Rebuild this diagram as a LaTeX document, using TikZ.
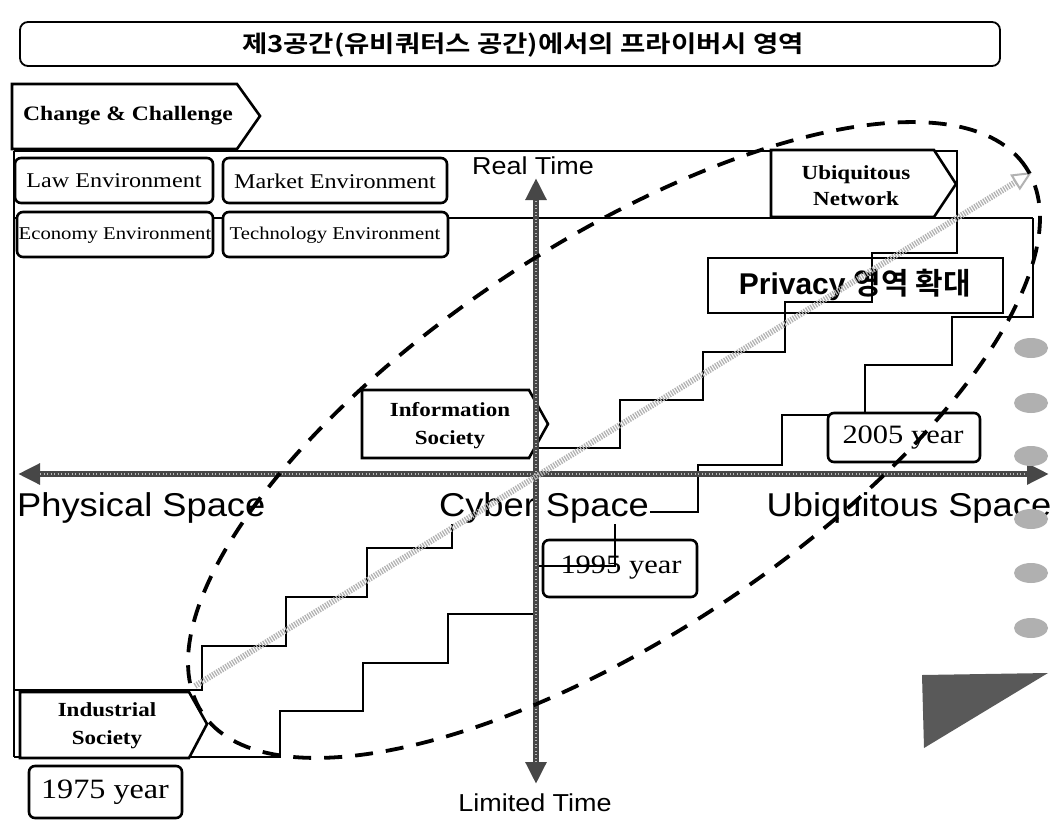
\documentclass[tikz,border=0pt]{standalone}
\usepackage{fontspec}
\setmainfont{Liberation Serif}
\setsansfont{Liberation Sans}
\newfontfamily\wserif[FakeStretch=1.15]{Liberation Serif}
\newfontfamily\wsans[FakeStretch=1.1]{Liberation Sans}
\newfontfamily\kr[BoldFont={* Bold}]{Noto Sans CJK KR}
\newfontfamily\krt[BoldFont={* Bold}, FakeStretch=1.17]{Noto Sans CJK KR}
\usetikzlibrary{arrows.meta}
\tikzset{
  thinline/.style={line width=1.6pt},
  pent/.style={line width=2.6pt, fill=white, line join=miter},
  rbox/.style={line width=2.6pt, fill=white, rounded corners=6pt},
  serifb/.style={font=\wserif\fontsize{20}{28}\selectfont\bfseries, align=center, inner sep=0pt},
  envtxt/.style={font=\wserif\fontsize{21}{23}\selectfont, inner sep=0pt},
  envtxts/.style={font=\wserif\fontsize{18}{20}\selectfont, inner sep=0pt},
  yeartxt/.style={font=\wserif\fontsize{26.5}{28}\selectfont, inner sep=0pt},
  axlbl/.style={font=\wsans\fontsize{33}{35}\selectfont, inner sep=1pt, fill=white},
  tlbl/.style={font=\wsans\fontsize{24.5}{26}\selectfont, inner sep=0pt},
  axis/.style={line width=6pt, draw=black!72, {Triangle[length=22pt,width=20pt]}-{Triangle[length=22pt,width=20pt]}},
  axistex/.style={line width=2pt, draw=gray!55, dash pattern=on 1pt off 2.5pt},
  diag/.style={line width=6pt, draw=gray!60, dash pattern=on 1.3pt off 1.3pt, -{Triangle[open,length=20pt,width=18pt,line width=2pt]}},
  ell/.style={line width=3.8pt, dash pattern=on 18pt off 13pt},
  dot/.style={fill=gray!62, draw=none}
}
\begin{document}
\begin{tikzpicture}[x=1pt,y=-1pt]
\useasboundingbox (0,0) rectangle (1055,822);
\fill[white] (0,0) rectangle (1055,822);

% title
\draw[line width=1.8pt, rounded corners=8pt] (20,22) rectangle (1000,66);
\node[font=\krt\bfseries\fontsize{23.5}{25}\selectfont, inner sep=0pt] (title) at (523,45) {제3공간(유비쿼터스 공간)에서의 프라이버시 영역};

% band and staircase lines
\draw[thinline] (14,151) -- (957,151) -- (957,218);
\draw[thinline] (14,151) -- (14,757);
\draw[thinline] (14,218) -- (1033,218);
% upper staircase
\draw[thinline] (14,690) -- (202,690) -- (202,646) -- (286,646) -- (286,597) -- (367,597) -- (367,548) -- (452,548) -- (452,500) -- (537,500) -- (537,448) -- (620,448) -- (620,400) -- (703,400) -- (703,352) -- (785,352) -- (785,302) -- (872,302) -- (872,253) -- (957,253) -- (957,218);
% lower staircase
\draw[thinline] (14,757) -- (280,757) -- (280,711) -- (363,711) -- (363,663) -- (448,663) -- (448,614) -- (535,614) -- (535,566) -- (615,566) -- (615,512) -- (698,512) -- (698,465) -- (782,465) -- (782,415) -- (865,415) -- (865,365) -- (952,365) -- (952,317) -- (1033,317) -- (1033,218);

% Privacy box
\draw[thinline] (708,258) rectangle (1003,313);
\node[inner sep=0pt] (priv) at (855,285) {\fontsize{30}{32}\selectfont\sffamily\bfseries Privacy {\kr\bfseries 영역 확대}};

% 1995 box (no fill)
\draw[line width=2.6pt, rounded corners=6pt] (543,540) rectangle (697,597);
\node[yeartxt] (y1995) at (621,568) {1995 year};

% change & challenge
\draw[pent] (12,84) -- (237,84) -- (260,116) -- (237,149) -- (12,149) -- cycle;
\node[serifb, font=\wserif\fontsize{20.5}{22}\selectfont\bfseries] (chg) at (128,116) {Change \& Challenge};

% environment boxes
\draw[rbox] (15,158) rectangle (213,203);
\node[envtxt] (law) at (114,181) {Law Environment};
\draw[rbox] (223,158) rectangle (447,203);
\node[envtxt] (mkt) at (335,181) {Market Environment};
\draw[rbox] (17,212) rectangle (213,257);
\node[envtxts] (eco) at (115,235) {Economy Environment};
\draw[rbox] (223,212) rectangle (448,257);
\node[envtxts] (tec) at (335,235) {Technology Environment};

% Ubiquitous Network
\draw[pent] (771,150) -- (934,150) -- (956,184) -- (934,217) -- (771,217) -- cycle;
\node[serifb, font=\wserif\fontsize{20}{26}\selectfont\bfseries] (ubn) at (856,186) {Ubiquitous\\Network};

% Information Society
\draw[pent] (362,390) -- (529,390) -- (548,424) -- (529,458) -- (362,458) -- cycle;
\node[serifb] (inf) at (450,426) {Information\\Society};

% Industrial Society
\draw[pent] (20,692) -- (189,692) -- (207,724) -- (189,758) -- (20,758) -- cycle;
\node[serifb] (ind) at (107,726) {Industrial\\Society};

% year boxes
\draw[rbox] (828,413) rectangle (980,462);
\node[yeartxt] (y2005) at (903,438) {2005 year};
\draw[rbox] (29,766) rectangle (182,818);
\node[yeartxt, font=\wserif\fontsize{28}{30}\selectfont] (y1975) at (105,792) {1975 year};

% axis labels
\node[axlbl, anchor=base west] (phys) at (16,516) {Physical Space};
\node[axlbl, anchor=base] (cyb) at (544,516) {Cyber Space};
\node[axlbl, anchor=base] (ubs) at (909,516) {Ubiquitous Space};
\node[tlbl] (rt) at (533,166) {Real Time};
\node[tlbl] (lt) at (535,803) {Limited Time};

% axes
\coordinate (xl) at (18,474);
\coordinate (xr) at (1049,474);
\coordinate (yt) at (536,178);
\coordinate (yb) at (536,784);
\coordinate (xl2) at (40,474);
\coordinate (xr2) at (1027,474);
\coordinate (yt2) at (536,200);
\coordinate (yb2) at (536,762);
\draw[axis] (xl) -- (xr);
\draw[axis] (yb) -- (yt);
\draw[axistex] (xl2) -- (xr2);
\draw[axistex] (yb2) -- (yt2);

% diagonal arrow
\coordinate (ds) at (195,686);
\coordinate (de) at (1032,172);
\draw[diag] (ds) -- (de);

% dashed ellipse
\draw[ell, rotate around={33.5:(614,440)}] (614,440) ellipse [x radius=494pt, y radius=196pt];

% right decoration
\foreach \yy in {348,403,456,519,573,628} {
  \fill[dot] (1031,\yy) ellipse [x radius=17pt, y radius=10pt];
}
\fill[black!65] (922,675) -- (1048,673) -- (924,748) -- cycle;
\end{tikzpicture}
\end{document}
